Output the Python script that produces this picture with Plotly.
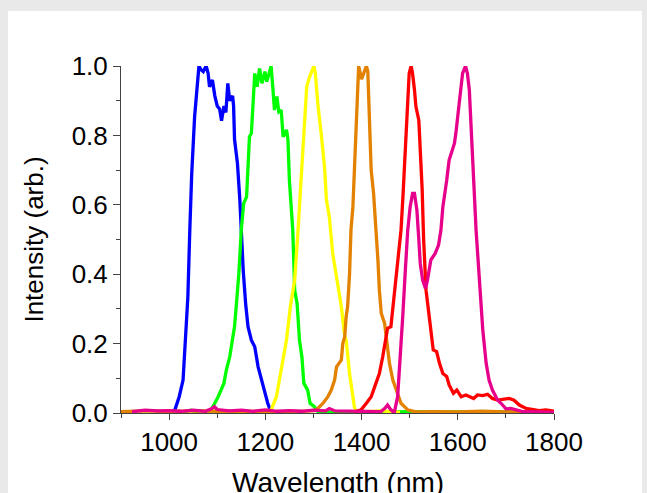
import plotly.graph_objects as go

# ---------------- data ----------------
blue_wl = [1000, 1008, 1012, 1021, 1029, 1035, 1039, 1043, 1047, 1053, 1058, 1062, 1066, 1071, 1077, 1081,
           1084, 1090, 1095, 1100, 1105, 1109, 1114, 1118, 1122, 1126, 1132, 1134, 1136, 1142, 1147, 1150,
           1154, 1159, 1164, 1171, 1178, 1185, 1195, 1205, 1210, 1215]
blue_i = [0.003, 0.005, 0.009, 0.047, 0.095, 0.239, 0.335, 0.527, 0.69, 0.854, 0.93, 1.0, 0.99, 0.984, 1.0, 0.98,
          0.94, 0.96, 0.914, 0.885, 0.876, 0.842, 0.885, 0.866, 0.95, 0.9, 0.914, 0.885, 0.788, 0.72, 0.615, 0.527,
          0.412, 0.316, 0.249, 0.21, 0.191, 0.133, 0.076, 0.028, 0.009, 0.003]

green_wl = [1030, 1045, 1055, 1065, 1075, 1085, 1091, 1102, 1114, 1119, 1126, 1133, 1136, 1140, 1145, 1150,
            1155, 1161, 1167, 1171, 1174, 1178, 1183, 1188, 1193, 1199, 1203, 1209, 1212, 1216, 1219, 1224,
            1228, 1233, 1237, 1244, 1247, 1250, 1254, 1257, 1261, 1266, 1271, 1276, 1280, 1288, 1293, 1302,
            1309, 1320, 1400, 1500, 1600, 1700, 1800]
green_i = [0.003, 0.008, 0.004, 0.007, 0.004, 0.006, 0.018, 0.047, 0.086, 0.124, 0.162, 0.22, 0.249, 0.316, 0.403, 0.527,
           0.604, 0.623, 0.796, 0.806, 0.883, 0.979, 0.94, 0.993, 0.95, 0.984, 0.955, 0.988, 1.0, 0.93, 0.873, 0.912,
           0.868, 0.873, 0.796, 0.816, 0.787, 0.671, 0.595, 0.527, 0.354, 0.316, 0.21, 0.162, 0.086, 0.066, 0.028, 0.018,
           0.004, 0.003, 0.002, 0.004, 0.003, 0.004, 0.003]

yellow_wl = [1205, 1212, 1223, 1233, 1244, 1252, 1261, 1268, 1273, 1278, 1284, 1286, 1292, 1298, 1301, 1304,
             1309, 1316, 1323, 1327, 1333, 1340, 1348, 1354, 1358, 1365, 1368, 1375, 1385, 1389, 1400, 1440, 1480]
yellow_i = [0.002, 0.009, 0.047, 0.124, 0.21, 0.306, 0.383, 0.527, 0.633, 0.758, 0.883, 0.94, 0.969, 0.993, 1.0, 0.979,
            0.893, 0.806, 0.71, 0.614, 0.566, 0.46, 0.393, 0.335, 0.306, 0.22, 0.21, 0.114, 0.018, 0.004, 0.003, 0.006, 0.002]

orange_wl = [900, 950, 1000, 1050, 1100, 1150, 1200, 1250, 1300, 1306, 1320, 1330, 1337, 1344, 1348, 1354,
             1358, 1361, 1365, 1368, 1371, 1375, 1378, 1382, 1387, 1390, 1394, 1400, 1405, 1410, 1413, 1416,
             1420, 1425, 1430, 1434, 1437, 1441, 1448, 1452, 1458, 1465, 1472, 1482, 1496, 1513, 1550, 1600,
             1650, 1700, 1750, 1800]
orange_i = [0.004, 0.006, 0.004, 0.006, 0.005, 0.004, 0.005, 0.004, 0.006, 0.009, 0.028, 0.047, 0.066, 0.095, 0.133, 0.143,
            0.153, 0.2, 0.22, 0.278, 0.306, 0.4, 0.527, 0.594, 0.748, 0.883, 1.0, 0.962, 0.98, 1.0, 0.984, 0.854,
            0.7, 0.633, 0.537, 0.441, 0.354, 0.287, 0.258, 0.21, 0.143, 0.095, 0.066, 0.028, 0.009, 0.003, 0.004, 0.003,
            0.005, 0.003, 0.004, 0.003]

red_wl = [1385, 1399, 1410, 1420, 1430, 1437, 1444, 1450, 1454, 1461, 1468, 1475, 1482, 1486, 1491, 1496,
          1499, 1503, 1506, 1510, 1513, 1519, 1522, 1526, 1529, 1531, 1534, 1539, 1544, 1549, 1556, 1562,
          1569, 1577, 1582, 1591, 1598, 1607, 1617, 1624, 1633, 1641, 1652, 1662, 1672, 1683, 1693, 1707,
          1717, 1728, 1742, 1755, 1769, 1783, 1797, 1800]
red_i = [0.003, 0.009, 0.028, 0.047, 0.086, 0.114, 0.162, 0.21, 0.244, 0.249, 0.335, 0.431, 0.527, 0.623, 0.758, 0.883,
         0.979, 1.0, 0.979, 0.931, 0.883, 0.844, 0.767, 0.643, 0.5, 0.431, 0.354, 0.297, 0.239, 0.182, 0.177, 0.143,
         0.114, 0.105, 0.081, 0.057, 0.066, 0.047, 0.052, 0.047, 0.042, 0.052, 0.05, 0.054, 0.042, 0.037, 0.04, 0.042,
         0.037, 0.023, 0.013, 0.009, 0.007, 0.009, 0.004, 0.005]

magenta_wl = [923, 950, 975, 1000, 1025, 1050, 1075, 1088, 1094, 1100, 1125, 1150, 1175, 1200, 1225, 1250,
              1275, 1300, 1325, 1333, 1345, 1375, 1400, 1425, 1440, 1448, 1454, 1461, 1468, 1475, 1480, 1486,
              1491, 1496, 1501, 1506, 1510, 1515, 1519, 1522, 1527, 1533, 1537, 1544, 1553, 1560, 1565, 1569,
              1577, 1582, 1593, 1596, 1603, 1610, 1616, 1620, 1624, 1627, 1631, 1634, 1638, 1645, 1652, 1659,
              1665, 1672, 1683, 1690, 1700, 1710, 1721, 1735, 1748, 1770, 1800]
magenta_i = [0.004, 0.008, 0.006, 0.007, 0.005, 0.008, 0.005, 0.012, 0.018, 0.01, 0.006, 0.008, 0.005, 0.009, 0.005, 0.007,
             0.005, 0.008, 0.006, 0.013, 0.006, 0.005, 0.004, 0.005, 0.004, 0.013, 0.023, 0.009, 0.001, 0.047, 0.143, 0.287,
             0.412, 0.527, 0.594, 0.633, 0.633, 0.585, 0.5, 0.431, 0.383, 0.359, 0.383, 0.441, 0.46, 0.484, 0.527, 0.594,
             0.671, 0.729, 0.777, 0.806, 0.893, 0.979, 1.0, 0.979, 0.931, 0.854, 0.758, 0.643, 0.527, 0.383, 0.239, 0.143,
             0.095, 0.066, 0.037, 0.028, 0.012, 0.013, 0.009, 0.004, 0.004, 0.003, 0.002]

x_ticks = [1000, 1200, 1400, 1600, 1800]
y_ticks = [0.0, 0.2, 0.4, 0.6, 0.8, 1.0]
y_tick_labels = ["0.0", "0.2", "0.4", "0.6", "0.8", "1.0"]
x_title = "Wavelength (nm)"
y_title = "Intensity (arb.)"

series = [
    (blue_wl, blue_i, "#0000FF"),
    (green_wl, green_i, "#00FF00"),
    (yellow_wl, yellow_i, "#FFFF00"),
    (orange_wl, orange_i, "#E38100"),
    (red_wl, red_i, "#FF0000"),
    (magenta_wl, magenta_i, "#E6008C"),
]

fig = go.Figure()
for wl, inten, col in series:
    fig.add_trace(go.Scatter(x=wl, y=inten, mode="lines", line=dict(color=col, width=3.3),
                             cliponaxis=False, showlegend=False, hoverinfo="skip"))

FONT = "Arial, Liberation Sans, sans-serif"
AX = "#444444"

fig.update_layout(
    width=647, height=493,
    margin=dict(l=121, r=93, t=66, b=80, autoexpand=False),
    paper_bgcolor="#E9E9E9",
    plot_bgcolor="white",
    font=dict(family=FONT, color="black"),
    shapes=[dict(type="rect", xref="paper", yref="paper", x0=-0.261, x1=1.2032, y0=-0.3, y1=1.1585,
                 fillcolor="white", line=dict(width=0), layer="below")],
    annotations=[dict(text=x_title, xref="paper", yref="paper", x=0.5, y=-0.20,
                      xanchor="center", yanchor="middle", showarrow=False,
                      font=dict(size=28, family=FONT, color="black"))],
)
fig.update_xaxes(
    range=[900, 1800], tickvals=x_ticks, showline=True, linecolor=AX, linewidth=1,
    ticks="outside", ticklen=6, tickwidth=1, tickcolor=AX,
    minor=dict(ticks="outside", ticklen=4, tickwidth=1, tickcolor=AX, tick0=900, dtick=100),
    showgrid=False, zeroline=False, tickfont=dict(size=26, family=FONT, color="black"),
)
fig.update_yaxes(
    range=[0, 1], tickvals=y_ticks, ticktext=y_tick_labels, showline=True, linecolor=AX, linewidth=1,
    ticks="outside", ticklen=7, tickwidth=1, tickcolor=AX,
    minor=dict(ticks="outside", ticklen=4, tickwidth=1, tickcolor=AX, tick0=0, dtick=0.1),
    showgrid=False, zeroline=False, tickfont=dict(size=26, family=FONT, color="black"),
    title=dict(text=y_title, font=dict(size=26, family=FONT, color="black"), standoff=20),
)

fig.write_html("out.html", config={"displayModeBar": False},
               post_script="document.body.style.margin='0';document.body.style.background='#E9E9E9';")
